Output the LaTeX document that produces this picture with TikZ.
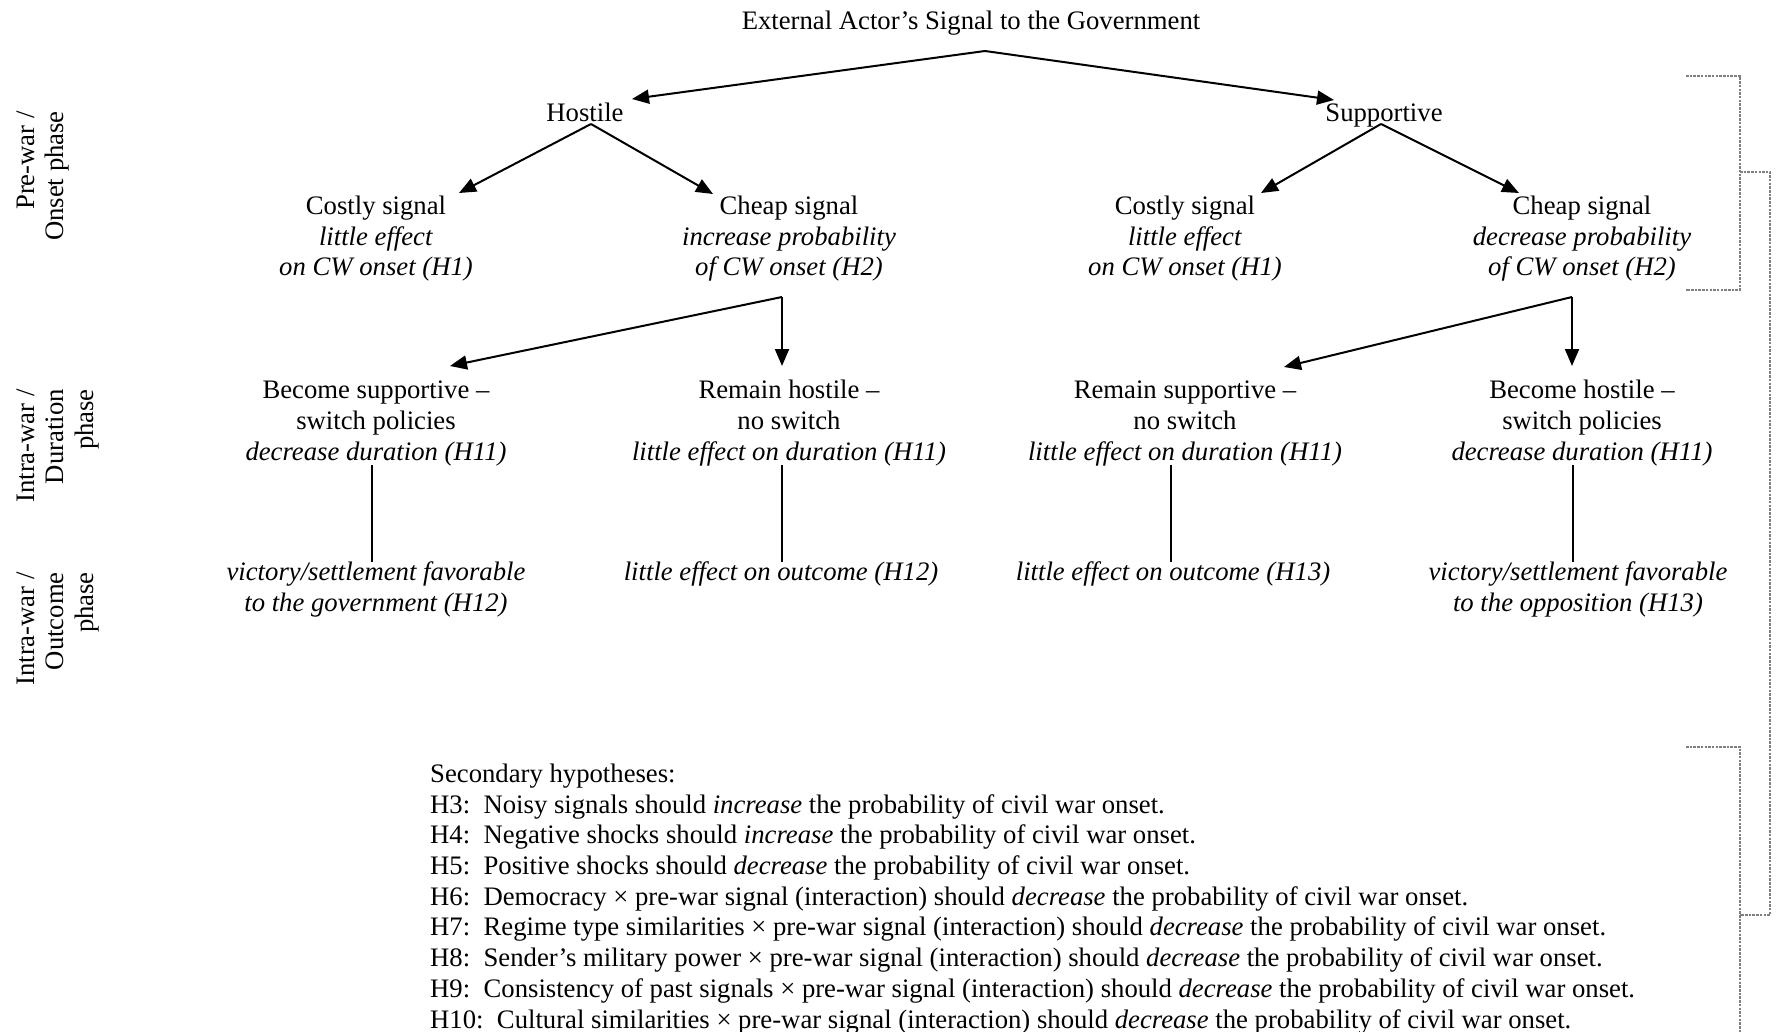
\documentclass[tikz,border=0pt]{standalone}
\usepackage{fontspec}
\setmainfont{Liberation Serif}
\usetikzlibrary{arrows.meta}
\begin{document}
\begin{tikzpicture}[x=1pt,y=-1pt,
  txt/.style={font=\fontsize{26.7}{30.7}\selectfont, align=center, inner sep=0pt, anchor=base},
  phase/.style={font=\fontsize{26.7}{29.5}\selectfont, align=right, inner sep=0pt, rotate=90, anchor=north east},
  arr/.style={line width=2pt, -{Triangle[length=17pt,width=14pt]}},
  stem/.style={line width=1.6pt},
  brk/.style={gray, line width=1.2pt, dash pattern=on 2.5pt off 1.2pt}]
\useasboundingbox[fill=white] (0,0) rectangle (1777,1032);

% tree of signals (multi-line nodes sit on the baseline of their last line)
\node[txt] (title) at (971,30) {External Actor’s Signal to the Government};
\node[txt] (hostile) at (585,122) {Hostile};
\node[txt] (supportive) at (1384,122) {Supportive};

\node[txt] (hcostly) at (376,276) {Costly signal\\\textit{little effect}\\\textit{on CW onset (H1)}};
\node[txt] (hcheap) at (789,276) {Cheap signal\\\textit{increase probability}\\\textit{of CW onset (H2)}};
\node[txt] (scostly) at (1185,276) {Costly signal\\\textit{little effect}\\\textit{on CW onset (H1)}};
\node[txt] (scheap) at (1582,276) {Cheap signal\\\textit{decrease probability}\\\textit{of CW onset (H2)}};

\node[txt] (bsup) at (376,460) {Become supportive –\\switch policies\\\textit{decrease duration (H11)}};
\node[txt] (rhost) at (789,460) {Remain hostile –\\no switch\\\textit{little effect on duration (H11)}};
\node[txt] (rsup) at (1185,460) {Remain supportive –\\no switch\\\textit{little effect on duration (H11)}};
\node[txt] (bhost) at (1582,460) {Become hostile –\\switch policies\\\textit{decrease duration (H11)}};

\node[txt] (ogov) at (376,611) {\textit{victory/settlement favorable}\\\textit{to the government (H12)}};
\node[txt] (ohost) at (781,580) {\textit{little effect on outcome (H12)}};
\node[txt] (osup) at (1173,580) {\textit{little effect on outcome (H13)}};
\node[txt] (oopp) at (1578,611) {\textit{victory/settlement favorable}\\\textit{to the opposition (H13)}};

% fork points and arrow ends
\coordinate (tfork) at (985,51);
\coordinate (hfork) at (591,124);
\coordinate (sfork) at (1381,124);
\coordinate (hcfork) at (782,297);
\coordinate (scfork) at (1572,297);
\coordinate (tohostile) at (632,99);
\coordinate (tosupportive) at (1334,100);
\coordinate (tohcostly) at (459,193);
\coordinate (tohcheap) at (713,194);
\coordinate (toscostly) at (1261,193);
\coordinate (toscheap) at (1519,193);
\coordinate (tobsup) at (450,366);
\coordinate (torhost) at (782,366);
\coordinate (torsup) at (1284,367);
\coordinate (tobhost) at (1572,366);

\draw[arr] (tfork) -- (tohostile);
\draw[arr] (tfork) -- (tosupportive);
\draw[arr] (hfork) -- (tohcostly);
\draw[arr] (hfork) -- (tohcheap);
\draw[arr] (sfork) -- (toscostly);
\draw[arr] (sfork) -- (toscheap);
\draw[arr] (hcfork) -- (tobsup);
\draw[arr] (hcfork) -- (torhost);
\draw[arr] (scfork) -- (torsup);
\draw[arr] (scfork) -- (tobhost);

% stems from duration to outcome
\draw[stem] (372,465) coordinate (s1a) -- (372,562) coordinate (s1b);
\draw[stem] (782,465) coordinate (s2a) -- (782,562) coordinate (s2b);
\draw[stem] (1171,465) coordinate (s3a) -- (1171,562) coordinate (s3b);
\draw[stem] (1573,465) coordinate (s4a) -- (1573,562) coordinate (s4b);

% phase labels
\node[phase] (ponset) at (16.5,111) {Pre-war /\\Onset phase};
\node[phase] (pdur) at (16.5,389) {Intra-war /\\Duration\\phase};
\node[phase] (pout) at (16.5,572) {Intra-war /\\Outcome\\phase};

% secondary hypotheses
\node[font=\fontsize{26.7}{30.7}\selectfont\frenchspacing, align=left, inner sep=0pt, anchor=base west] (second) at (430,1028)
{Secondary hypotheses:\\
H3:~~Noisy signals should \textit{increase} the probability of civil war onset.\\
H4:~~Negative shocks should \textit{increase} the probability of civil war onset.\\
H5:~~Positive shocks should \textit{decrease} the probability of civil war onset.\\
H6:~~Democracy × pre-war signal (interaction) should \textit{decrease} the probability of civil war onset.\\
H7:~~Regime type similarities × pre-war signal (interaction) should \textit{decrease} the probability of civil war onset.\\
H8:~~Sender’s military power × pre-war signal (interaction) should \textit{decrease} the probability of civil war onset.\\
H9:~~Consistency of past signals × pre-war signal (interaction) should \textit{decrease} the probability of civil war onset.\\
H10:~~Cultural similarities × pre-war signal (interaction) should \textit{decrease} the probability of civil war onset.};

% dashed brackets on the right
\draw[brk] (1686,76) -- (1740,76) -- (1740,290) -- (1686,290);
\draw[brk] (1740,172) -- (1770,172) -- (1770,915) -- (1740,915);
\draw[brk] (1686,747) -- (1740,747) -- (1740,1032);
\end{tikzpicture}
\end{document}
